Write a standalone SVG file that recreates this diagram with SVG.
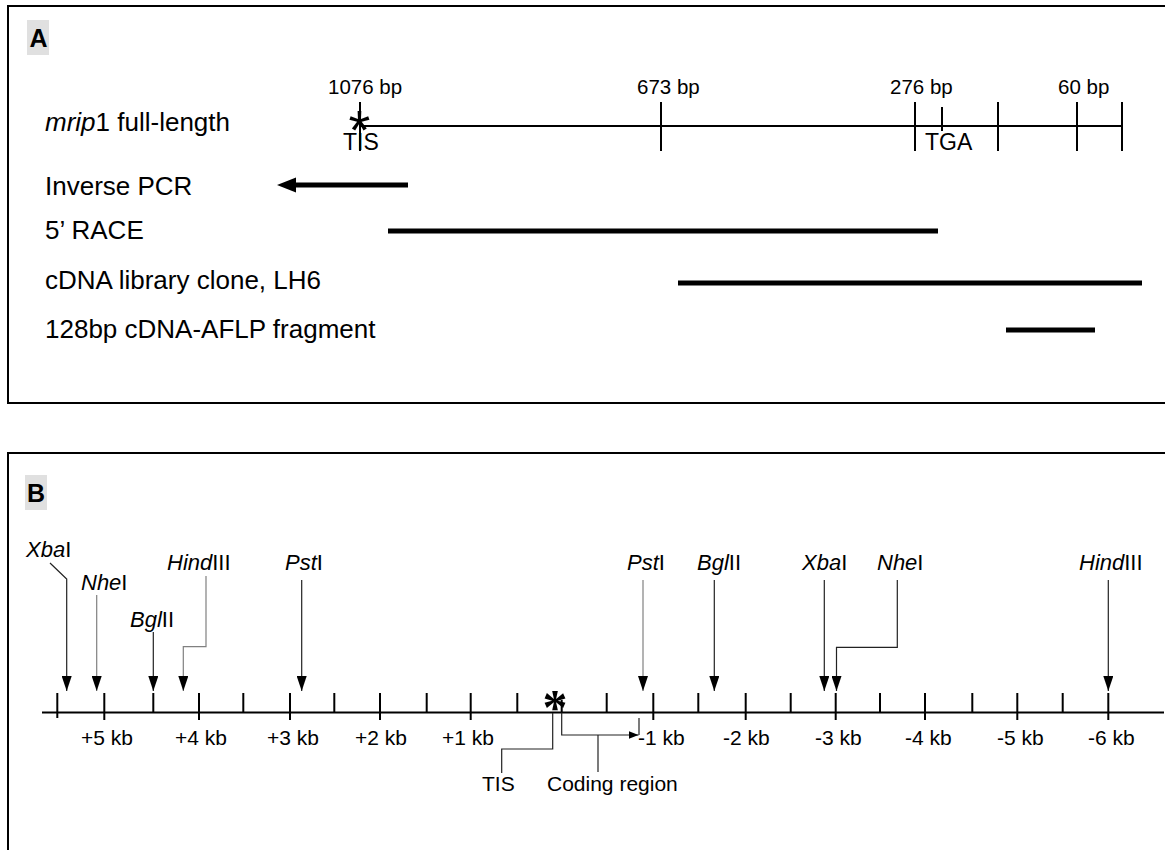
<svg xmlns="http://www.w3.org/2000/svg" width="1165" height="850" viewBox="0 0 1165 850">
<style>
text{font-family:"Liberation Sans",Arial,sans-serif;fill:#000}
.big{font-size:26px}
.bp{font-size:20.5px}
.sm{font-size:21px}
.site{font-size:22px}
.it{font-style:italic}
.hdr{font-size:25px;font-weight:bold}
.frame{fill:none;stroke:#000;stroke-width:2}
.tag{fill:#e0e0e0}
.axis{stroke:#000;stroke-width:2;fill:none}
.tick{stroke:#000;stroke-width:2}
.bar{stroke:#000;stroke-width:5}
.lead{fill:none;stroke:#222;stroke-width:1.2}
.leadg{fill:none;stroke:#808080;stroke-width:1.2}
</style>
<defs>
<marker id="ah" markerUnits="userSpaceOnUse" markerWidth="15" markerHeight="10" refX="15" refY="5" orient="auto" viewBox="0 0 15 10">
<path d="M0,0 L15,5 L0,10 z" fill="#000"/>
</marker>
<marker id="ah2" markerUnits="userSpaceOnUse" markerWidth="10" markerHeight="8" refX="10" refY="4" orient="auto" viewBox="0 0 10 8">
<path d="M0,0 L10,4 L0,8 z" fill="#000"/>
</marker>
</defs>
<rect width="1165" height="850" fill="#fff"/>

<g id="panel-a">
<rect class="frame" x="8" y="6" width="1170" height="397"/>
<g id="label-a"><rect class="tag" x="27" y="20" width="22" height="35"/><text class="hdr" x="29.5" y="47">A</text></g>
<g id="row-labels">
<text class="big" x="45" y="131"><tspan class="it">mrip</tspan>1 full-length</text>
<text class="big" x="45" y="195">Inverse PCR</text>
<text class="big" x="45" y="239">5’ RACE</text>
<text class="big" x="45" y="289">cDNA library clone, LH6</text>
<text class="big" x="45" y="338">128bp cDNA-AFLP fragment</text>
</g>
<g id="mrip1-map">
<line class="axis" x1="360" y1="126" x2="1122" y2="126"/>
<text x="343" y="150" style="font-size:23px">TIS</text>
<line class="tick" x1="360" y1="102" x2="360" y2="151"/>
<line class="tick" x1="661" y1="102" x2="661" y2="151"/>
<line class="tick" x1="915" y1="102" x2="915" y2="151"/>
<line class="tick" x1="942" y1="107" x2="942" y2="131"/>
<line class="tick" x1="998" y1="102" x2="998" y2="151"/>
<line class="tick" x1="1077" y1="102" x2="1077" y2="151"/>
<line class="tick" x1="1122" y1="102" x2="1122" y2="151"/>
<text x="359.5" y="149" style="font-size:56px" text-anchor="middle">*</text>
<text class="bp" x="328" y="94">1076 bp</text>
<text class="bp" x="637" y="94">673 bp</text>
<text class="bp" x="890" y="94">276 bp</text>
<text class="bp" x="1058" y="94">60 bp</text>
<text x="925" y="150" style="font-size:23px">TGA</text>
</g>
<g id="inverse-pcr">
<line class="bar" x1="294" y1="185" x2="408" y2="185"/>
<polygon points="277,185 296,177.5 296,192.5" fill="#000"/>
</g>
<g id="race"><line class="bar" x1="388" y1="231" x2="938" y2="231"/></g>
<g id="lh6"><line class="bar" x1="678" y1="283" x2="1142" y2="283"/></g>
<g id="aflp"><line class="bar" x1="1006" y1="330" x2="1095" y2="330"/></g>
</g>

<g id="panel-b">
<rect class="frame" x="8" y="453" width="1170" height="420"/>
<g id="label-b"><rect class="tag" x="25" y="475" width="22" height="35"/><text class="hdr" x="27" y="502">B</text></g>
<g id="genomic-axis">
<line class="axis" x1="42" y1="712.5" x2="1164" y2="712.5"/>
<g class="tick">
<line x1="57.3" y1="693" x2="57.3" y2="718"/>
<line x1="104.3" y1="693" x2="104.3" y2="720"/>
<line x1="153.3" y1="693" x2="153.3" y2="712.5"/>
<line x1="199" y1="693" x2="199" y2="720"/>
<line x1="243.3" y1="693" x2="243.3" y2="712.5"/>
<line x1="290" y1="693" x2="290" y2="720"/>
<line x1="334.3" y1="693" x2="334.3" y2="712.5"/>
<line x1="380" y1="693" x2="380" y2="720"/>
<line x1="426.7" y1="693" x2="426.7" y2="712.5"/>
<line x1="470.7" y1="693" x2="470.7" y2="720"/>
<line x1="517.3" y1="693" x2="517.3" y2="712.5"/>
<line x1="606.7" y1="693" x2="606.7" y2="712.5"/>
<line x1="653.3" y1="693" x2="653.3" y2="720"/>
<line x1="698.3" y1="693" x2="698.3" y2="712.5"/>
<line x1="745.7" y1="693" x2="745.7" y2="720"/>
<line x1="790.7" y1="693" x2="790.7" y2="712.5"/>
<line x1="835.7" y1="693" x2="835.7" y2="720"/>
<line x1="880" y1="693" x2="880" y2="712.5"/>
<line x1="925" y1="693" x2="925" y2="720"/>
<line x1="972.3" y1="693" x2="972.3" y2="712.5"/>
<line x1="1017.3" y1="693" x2="1017.3" y2="720"/>
<line x1="1062.7" y1="693" x2="1062.7" y2="712.5"/>
<line x1="1108.3" y1="693" x2="1108.3" y2="720"/>
</g>
<g id="kb-labels">
<text class="sm" x="81" y="745">+5 kb</text>
<text class="sm" x="175" y="745">+4 kb</text>
<text class="sm" x="267" y="745">+3 kb</text>
<text class="sm" x="355" y="745">+2 kb</text>
<text class="sm" x="442" y="745">+1 kb</text>
<text class="sm" x="638" y="745">-1 kb</text>
<text class="sm" x="723" y="745">-2 kb</text>
<text class="sm" x="815" y="745">-3 kb</text>
<text class="sm" x="905" y="745">-4 kb</text>
<text class="sm" x="997" y="745">-5 kb</text>
<text class="sm" x="1088" y="745">-6 kb</text>
</g>
</g>
<g id="tis-b">
<line class="tick" x1="561.7" y1="700" x2="561.7" y2="712.5"/>
<text x="555" y="724" style="font-family:'Liberation Serif',serif;font-size:50px;font-weight:bold" text-anchor="middle">*</text>
<text class="sm" x="482" y="791">TIS</text>
</g>
<g id="coding-region">
<text class="sm" x="547" y="791">Coding region</text>
</g>
<g id="site-labels">
<text class="site" x="26" y="557"><tspan class="it">Xba</tspan>I</text>
<text class="site" x="81" y="590"><tspan class="it">Nhe</tspan>I</text>
<text class="site" x="130" y="627"><tspan class="it">Bgl</tspan>II</text>
<text class="site" x="167" y="570"><tspan class="it">Hind</tspan>III</text>
<text class="site" x="285" y="570"><tspan class="it">Pst</tspan>I</text>
<text class="site" x="627" y="570"><tspan class="it">Pst</tspan>I</text>
<text class="site" x="697" y="570"><tspan class="it">Bgl</tspan>II</text>
<text class="site" x="802" y="570"><tspan class="it">Xba</tspan>I</text>
<text class="site" x="877" y="570"><tspan class="it">Nhe</tspan>I</text>
<text class="site" x="1079" y="570"><tspan class="it">Hind</tspan>III</text>
</g>
</g>

<g id="connectors">
<path class="lead" d="M50,563 L66.7,579 V691" marker-end="url(#ah)"/>
<path class="leadg" d="M96.7,595 V691" marker-end="url(#ah)"/>
<path class="lead" d="M153.3,632 V691" marker-end="url(#ah)"/>
<path class="leadg" d="M206,576 V646.7 H183.3 V691" marker-end="url(#ah)"/>
<path class="lead" d="M301.7,580 V691" marker-end="url(#ah)"/>
<path class="leadg" d="M643,580 V691" marker-end="url(#ah)"/>
<path class="lead" d="M714.3,580 V691" marker-end="url(#ah)"/>
<path class="lead" d="M824.3,580 V691" marker-end="url(#ah)"/>
<path class="lead" d="M897.3,580 V647.3 H836.5 V691" marker-end="url(#ah)"/>
<path class="lead" d="M1108.3,580 V691" marker-end="url(#ah)"/>
<path class="lead" d="M552.7,713 V749 H501.7 V773"/>
<path class="lead" d="M561.7,712.5 V735 H638.5" marker-end="url(#ah2)"/>
<path class="lead" d="M639,718 V735"/>
<path class="lead" d="M598,735 V772"/>
</g>
</svg>
